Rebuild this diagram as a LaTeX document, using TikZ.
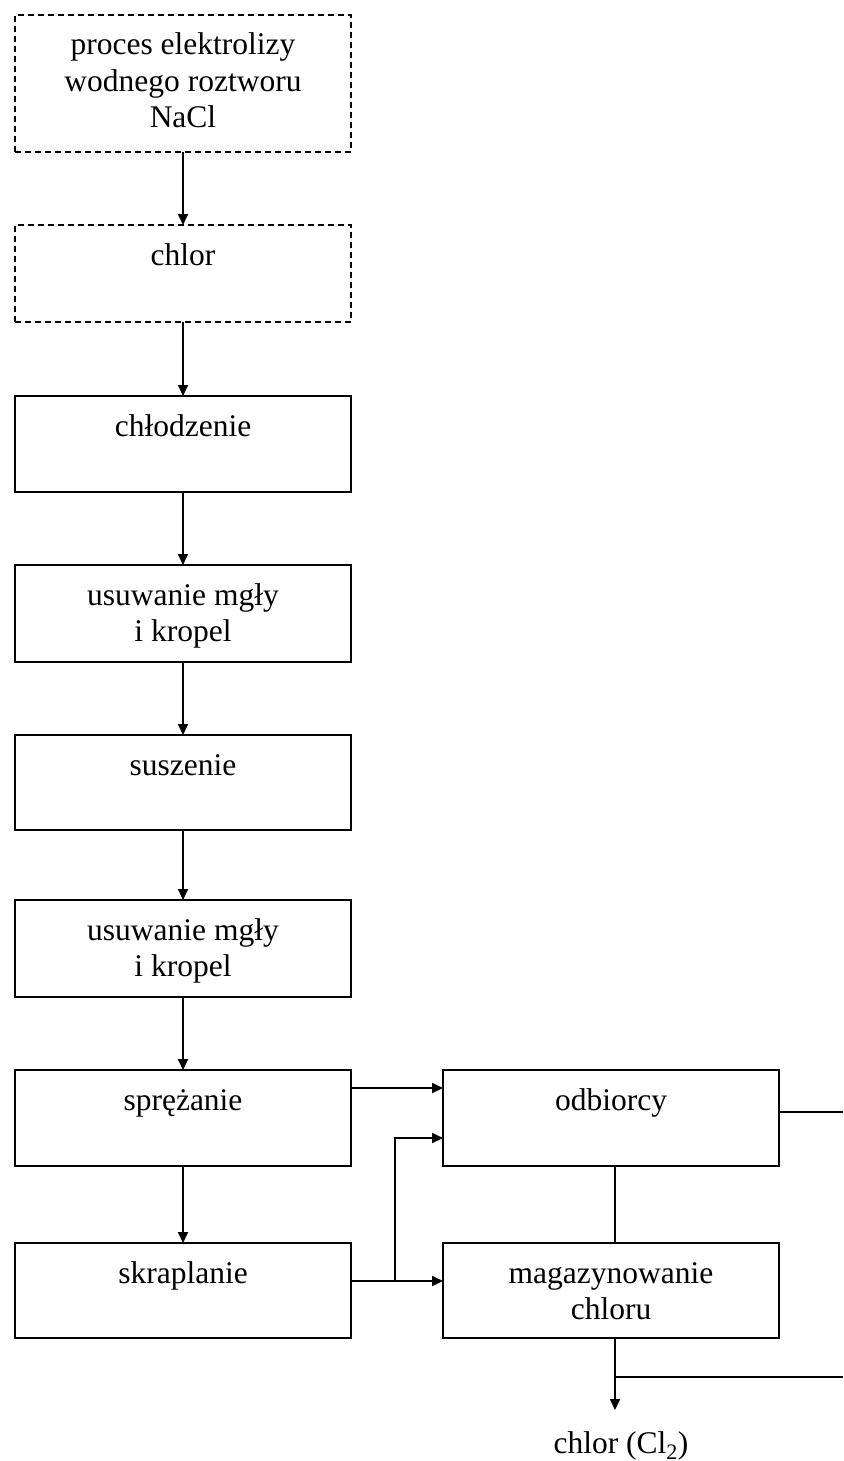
\documentclass[tikz,border=0pt]{standalone}
\usepackage{fontspec}
\setmainfont{Liberation Serif}
\usetikzlibrary{arrows.meta,calc}
\begin{document}
\begin{tikzpicture}[x=1pt,y=-1pt,
  box/.style={draw, line width=1.8pt, anchor=north west, inner sep=0pt,
    outer sep=0pt, minimum width=336pt, minimum height=#1},
  box/.default=97pt,
  dbox/.style={box=#1, dash pattern=on 6pt off 4pt},
  lbl/.style={font=\fontsize{31.5}{36.5}\selectfont, align=center,
    anchor=base, inner sep=0pt},
  link/.style={line width=1.8pt, -{Triangle[length=11pt,width=10pt]}},
  wire/.style={line width=1.8pt}]
  \useasboundingbox (0,0) rectangle (843,1461);

  % main process column
  \node[dbox=137pt] (b1) at (15,15) {};
  \node[dbox=97pt]  (b2) at (15,225) {};
  \node[box=96pt]   (b3) at (15,396) {};
  \node[box=97pt]   (b4) at (15,565) {};
  \node[box=95pt]   (b5) at (15,735) {};
  \node[box=97pt]   (b6) at (15,900) {};
  \node[box=96pt]   (b7) at (15,1070) {};
  \node[box=95pt]   (b8) at (15,1243) {};

  % consumers and storage
  \node[box=96pt]   (r1) at (443,1070) {};
  \node[box=95pt]   (r2) at (443,1243) {};

  % box captions (base = baseline of the last line)
  \node[lbl] (t1) at ([yshift=-113pt]b1.north) {proces elektrolizy\\wodnego roztworu\\NaCl};
  \node[lbl] (t2) at ([yshift=-40pt]b2.north) {chlor};
  \node[lbl] (t3) at ([yshift=-40pt]b3.north) {chłodzenie};
  \node[lbl] (t4) at ([yshift=-76.5pt]b4.north) {usuwanie mgły\\i kropel};
  \node[lbl] (t5) at ([yshift=-40pt]b5.north) {suszenie};
  \node[lbl] (t6) at ([yshift=-76.5pt]b6.north) {usuwanie mgły\\i kropel};
  \node[lbl] (t7) at ([yshift=-40pt]b7.north) {sprężanie};
  \node[lbl] (t8) at ([yshift=-40pt]b8.north) {skraplanie};
  \node[lbl] (u1) at ([yshift=-40pt]r1.north) {odbiorcy};
  \node[lbl] (u2) at ([yshift=-76.5pt]r2.north) {magazynowanie\\chloru};

  % product label
  \node[lbl] (prod) at (621,1453) {chlor (Cl\textsubscript{2})};

  % helper points
  \coordinate (split) at (395,1281);
  \coordinate (out1) at (843,1112);
  \coordinate (out2) at (843,1377);
  \coordinate (tap) at (615,1377);
  \coordinate (tip) at (615,1410);

  % main flow
  \draw[link] (b1) -- (b2);
  \draw[link] (b2) -- (b3);
  \draw[link] (b3) -- (b4);
  \draw[link] (b4) -- (b5);
  \draw[link] (b5) -- (b6);
  \draw[link] (b6) -- (b7);
  \draw[link] (b7) -- (b8);

  % distribution
  \draw[link] ([yshift=-18pt]b7.north east) -- ([yshift=-18pt]r1.north west);
  \draw[link] ([yshift=-38pt]b8.north east) -- ([yshift=-38pt]r2.north west);
  \draw[link] (split) |- ([yshift=-68pt]r1.north west);
  \draw[wire] ([xshift=4pt]r1.south) -- ([xshift=4pt]r2.north);
  \draw[wire] ([yshift=-42pt]r1.north east) -- (out1);
  \draw[link] ([xshift=4pt]r2.south) -- (tip);
  \draw[wire] (tap) -- (out2);
\end{tikzpicture}
\end{document}
